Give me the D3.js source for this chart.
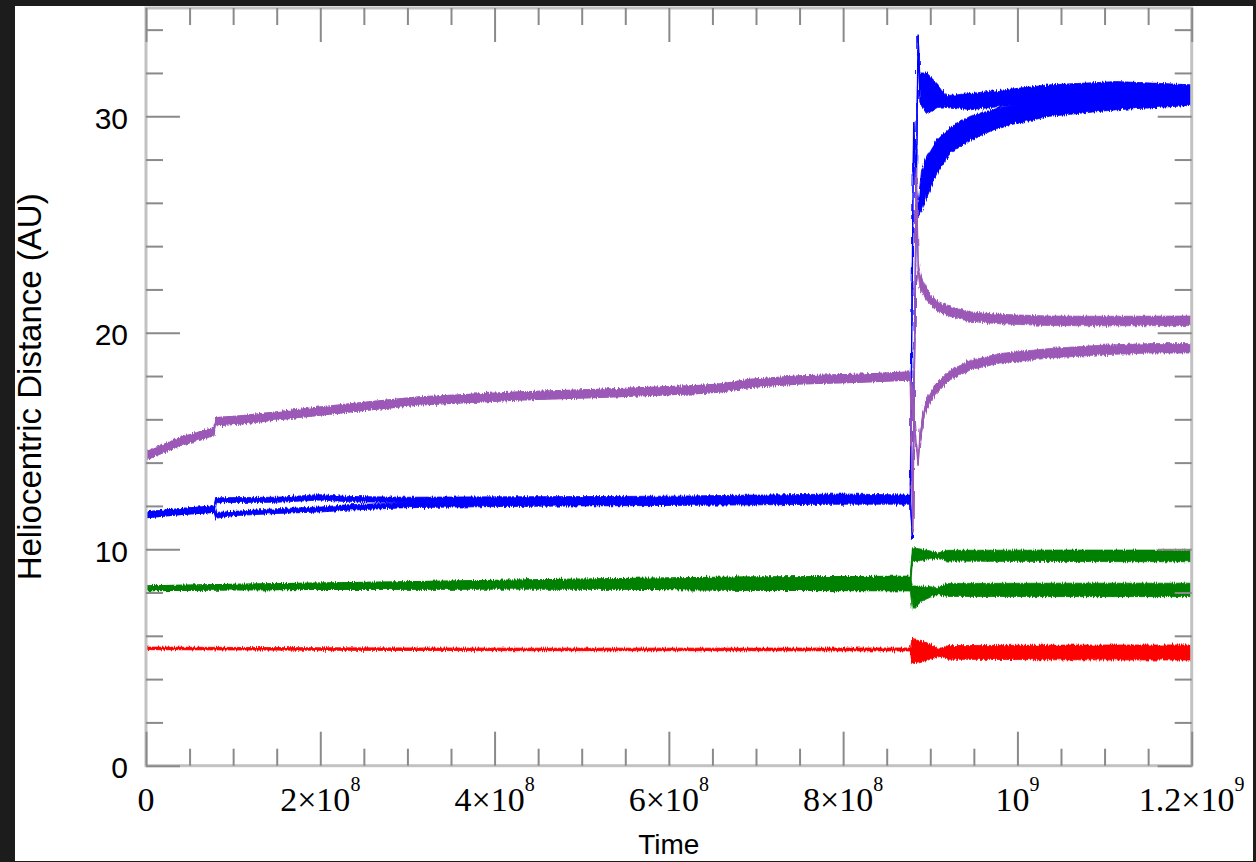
<!DOCTYPE html>
<html>
<head>
<meta charset="utf-8">
<script src="https://cdn.jsdelivr.net/npm/d3@7"></script>
<style>
  html, body { margin: 0; padding: 0; background: #ffffff; }
  svg { display: block; }
</style>
</head>
<body>
<svg id="chart" width="1256" height="862"></svg>
<script>
// ---------- DATA (time in units of 1e8 yr, distance in AU: [t, low, high]) ----------
const xTickValues = [0, 2, 4, 6, 8, 10, 12];
const xTickLabels = [["0", ""], ["2×10", "8"], ["4×10", "8"], ["6×10", "8"], ["8×10", "8"], ["10", "9"], ["1.2×10", "9"]];
const yTickValues = [0, 10, 20, 30];
const yTickLabels = ["0", "10", "20", "30"];

const redPts = [
  [0, 5.36, 5.48], [2, 5.33, 5.45], [4.3, 5.31, 5.43], [6.5, 5.31, 5.43], [8.77, 5.30, 5.44],
  [8.79, 4.73, 5.89], [8.9, 4.82, 5.75], [9.0, 4.9, 5.62], [9.09, 5.08, 5.38],
  [9.2, 4.92, 5.55], [10.5, 4.89, 5.57], [12.0, 4.88, 5.58]
];

const greenPre = [
  [0, 8.08, 8.31], [1, 8.12, 8.38], [2, 8.14, 8.44], [3, 8.15, 8.5], [4.3, 8.16, 8.58],
  [5.5, 8.15, 8.65], [6.9, 8.1, 8.72], [8.77, 8.08, 8.75]
];
const greenUpPost = [
  [8.795, 9.4, 10.07], [8.9, 9.5, 10.0], [9.0, 9.52, 9.92], [9.08, 9.58, 9.82],
  [9.2, 9.45, 9.95], [10.5, 9.43, 9.96], [12, 9.42, 9.96]
];
const greenLoPost = [
  [8.795, 7.19, 8.3], [8.9, 7.6, 8.3], [9.0, 7.78, 8.27], [9.08, 7.9, 8.22],
  [9.2, 7.82, 8.42], [10.5, 7.81, 8.43], [12, 7.81, 8.43]
];

const blueUpPts = [
  [0, 11.45, 11.72], [0.4, 11.6, 11.88], [0.78, 11.7, 12.0],
  [0.8, 12.15, 12.38], [1.5, 12.17, 12.4], [2.0, 12.27, 12.52], [2.3, 12.2, 12.44],
  [3, 12.15, 12.4], [4, 12.17, 12.42], [5, 12.18, 12.43], [6, 12.2, 12.45],
  [7, 12.23, 12.5], [8, 12.27, 12.55], [8.77, 12.25, 12.5],
  [8.795, 10.5, 10.5], [8.86, 33.75, 33.75], [8.88, 30.6, 32.0], [8.96, 30.1, 32.0],
  [9.08, 30.4, 31.5], [9.19, 30.45, 30.95], [9.46, 30.3, 31.05], [9.8, 30.45, 31.2],
  [10.37, 30.6, 31.45], [11.14, 30.7, 31.6], [12, 30.6, 31.45]
];
const blueLoPts = [
  [0, 11.45, 11.72], [0.4, 11.6, 11.88], [0.78, 11.7, 12.0],
  [0.8, 11.43, 11.7], [1.0, 11.55, 11.75], [1.5, 11.65, 11.87], [2.0, 11.72, 11.95],
  [2.3, 11.8, 12.05], [3, 11.92, 12.15], [4, 11.97, 12.2], [5, 12.0, 12.22],
  [6, 12.02, 12.25], [7, 12.05, 12.28], [8, 12.08, 12.3], [8.77, 12.08, 12.3],
  [8.81, 29.7, 29.7], [8.85, 25.3, 25.6], [8.9, 25.6, 27.5], [8.96, 26.3, 28.1],
  [9.08, 27.4, 28.9], [9.23, 28.3, 29.5], [9.46, 28.9, 30.0], [9.8, 29.5, 30.4],
  [10.37, 30.0, 30.75], [11.14, 30.3, 31.0], [12, 30.5, 31.2]
];

const purplePre = [
  [0, 14.12, 14.5], [0.39, 14.78, 15.16], [0.78, 15.24, 15.62], [0.8, 15.7, 16.08],
  [1.08, 15.78, 16.16], [1.77, 16.09, 16.47], [2.46, 16.39, 16.77], [3.14, 16.66, 17.04],
  [4.29, 16.89, 17.27], [5.21, 17.01, 17.39], [6.36, 17.19, 17.57], [6.6, 17.26, 17.64],
  [6.93, 17.47, 17.85], [7.5, 17.63, 18.01], [8.2, 17.71, 18.09], [8.77, 17.81, 18.19]
];
const purpleUpPost = [
  [8.80, 10.8, 10.8], [8.84, 27.6, 27.6], [8.86, 22.8, 23.4], [8.88, 22.05, 22.75],
  [8.95, 21.55, 22.1], [9.06, 21.05, 21.5], [9.23, 20.75, 21.2], [9.46, 20.52, 20.96],
  [9.8, 20.41, 20.85], [10.37, 20.33, 20.77], [10.95, 20.32, 20.76], [12, 20.33, 20.77]
];
const purpleLoPost = [
  [8.86, 13.85, 13.95], [8.88, 14.9, 15.5], [8.94, 16.3, 16.85], [9.05, 17.12, 17.58],
  [9.23, 17.83, 18.27], [9.46, 18.28, 18.72], [9.8, 18.6, 19.04], [10.37, 18.83, 19.27],
  [10.95, 18.98, 19.42], [11.52, 19.06, 19.5], [12, 19.06, 19.5]
];

const seriesList = [
  { name: "blue-lower", color: "#0000ff", pts: blueLoPts },
  { name: "blue-upper", color: "#0000ff", pts: blueUpPts },
  { name: "purple-upper", color: "#9b59b6", pts: purplePre.concat(purpleUpPost) },
  { name: "purple-lower", color: "#9b59b6", pts: purplePre.concat(purpleLoPost) },
  { name: "green-upper", color: "#008000", pts: greenPre.concat(greenUpPost) },
  { name: "green-lower", color: "#008000", pts: greenPre.concat(greenLoPost) },
  { name: "red", color: "#ff0000", pts: redPts }
];

(function () {
// ---------- LAYOUT ----------
const W = 1256, H = 862;
const pLeft = 146, pRight = 1191.7, pTop = 8, pBottom = 765.7;
const svg = d3.select("#chart");

const x = d3.scaleLinear().domain([0, 12]).range([pLeft, pRight]);
const y = d3.scaleLinear().domain([0, 35]).range([pBottom, pTop]);

svg.append("rect").attr("x", 0).attr("y", 0).attr("width", W).attr("height", H).attr("fill", "#ffffff");

const defs = svg.append("defs");
defs.append("clipPath").attr("id", "plotclip").append("rect")
  .attr("x", pLeft).attr("y", pTop).attr("width", pRight - pLeft).attr("height", pBottom - pTop);

// rough, jittery edge to mimic densely sampled oscillating orbits
const f = defs.append("filter").attr("id", "rough").attr("filterUnits", "userSpaceOnUse")
  .attr("x", 0).attr("y", 0).attr("width", W).attr("height", H);
f.append("feTurbulence").attr("type", "fractalNoise").attr("baseFrequency", "0.9 0.06")
  .attr("numOctaves", 2).attr("seed", 7).attr("result", "noise");
f.append("feDisplacementMap").attr("in", "SourceGraphic").attr("in2", "noise")
  .attr("scale", 5).attr("xChannelSelector", "B").attr("yChannelSelector", "R");

// ---------- SERIES ----------
const area = d3.area().x(d => x(d[0])).y0(d => y(d[1])).y1(d => y(d[2]));
const line = d3.line().x(d => x(d[0])).y(d => y((d[1] + d[2]) / 2));
const plot = svg.append("g").attr("clip-path", "url(#plotclip)");
seriesList.forEach(s => {
  plot.append("path").datum(s.pts).attr("d", area).attr("fill", s.color).attr("stroke", s.color)
    .attr("stroke-width", 0.8).attr("filter", "url(#rough)");
  plot.append("path").datum(s.pts).attr("d", line).attr("fill", "none")
    .attr("stroke", s.color).attr("stroke-width", 1.4).attr("stroke-linejoin", "round");
});

// ---------- FRAME & TICKS ----------
svg.append("rect").attr("x", pLeft).attr("y", pTop).attr("width", pRight - pLeft).attr("height", pBottom - pTop)
  .attr("fill", "none").attr("stroke", "#c2c2c2").attr("stroke-width", 3);

const xMinor = d3.range(0, 12.001, 0.5).filter(v => Math.abs(v / 2 - Math.round(v / 2)) > 1e-6);
const yMinor = d3.range(0, 35.001, 2).filter(v => v % 10 !== 0);

function styleAxis(g) {
  g.select(".domain").remove();
  g.selectAll(".tick line").attr("stroke", "#8a8a8a").attr("stroke-width", 2);
  g.selectAll(".tick text").remove();
}
const mk = (axisFn, scale, vals, size, tx, ty) =>
  svg.append("g").attr("transform", `translate(${tx},${ty})`)
    .call(axisFn(scale).tickValues(vals).tickSize(-size).tickFormat("")).call(styleAxis);

mk(d3.axisBottom, x, xTickValues, 34, 0, pBottom);
mk(d3.axisBottom, x, xMinor, 17, 0, pBottom);
mk(d3.axisTop, x, xTickValues, 34, 0, pTop);
mk(d3.axisTop, x, xMinor, 17, 0, pTop);
mk(d3.axisLeft, y, yTickValues, 34, pLeft, 0);
mk(d3.axisLeft, y, yMinor, 17, pLeft, 0);
mk(d3.axisRight, y, yTickValues, 34, pRight, 0);
mk(d3.axisRight, y, yMinor, 17, pRight, 0);

// ---------- TICK LABELS ----------
const xl = svg.append("g").attr("font-family", "'Liberation Serif', 'Times New Roman', serif")
  .attr("font-size", 34).attr("fill", "#000");
xTickValues.forEach((v, i) => {
  const t = xl.append("text").attr("x", x(v)).attr("y", 811).attr("text-anchor", "middle");
  t.append("tspan").text(xTickLabels[i][0]);
  if (xTickLabels[i][1]) {
    t.append("tspan").attr("dy", -20).attr("font-size", 20).text(xTickLabels[i][1]);
  }
});

const yl = svg.append("g").attr("font-family", "'Liberation Sans', Arial, sans-serif")
  .attr("font-size", 30).attr("fill", "#000");
yTickValues.forEach((v, i) => {
  yl.append("text").attr("x", 128).attr("y", y(v) + 12.5).attr("text-anchor", "end").text(yTickLabels[i]);
});

svg.append("text").attr("x", (pLeft + pRight) / 2).attr("y", 854).attr("text-anchor", "middle")
  .attr("font-family", "'Liberation Sans', Arial, sans-serif").attr("font-size", 28).text("Time");
svg.append("text").attr("transform", `translate(41,${(pTop + pBottom) / 2}) rotate(-90)`)
  .attr("text-anchor", "middle")
  .attr("font-family", "'Liberation Sans', Arial, sans-serif").attr("font-size", 33)
  .text("Heliocentric Distance (AU)");

// ---------- DARK SCREEN BORDERS ----------
const dark = "#1c1c1c";
svg.append("rect").attr("x", 0).attr("y", 0).attr("width", W).attr("height", 6).attr("fill", dark);
svg.append("rect").attr("x", 0).attr("y", 0).attr("width", 15).attr("height", H).attr("fill", dark);
svg.append("rect").attr("x", 1253).attr("y", 0).attr("width", 3).attr("height", H).attr("fill", dark);
svg.append("rect").attr("x", 0).attr("y", 861).attr("width", W).attr("height", 1).attr("fill", dark);
})();
</script>
</body>
</html>
